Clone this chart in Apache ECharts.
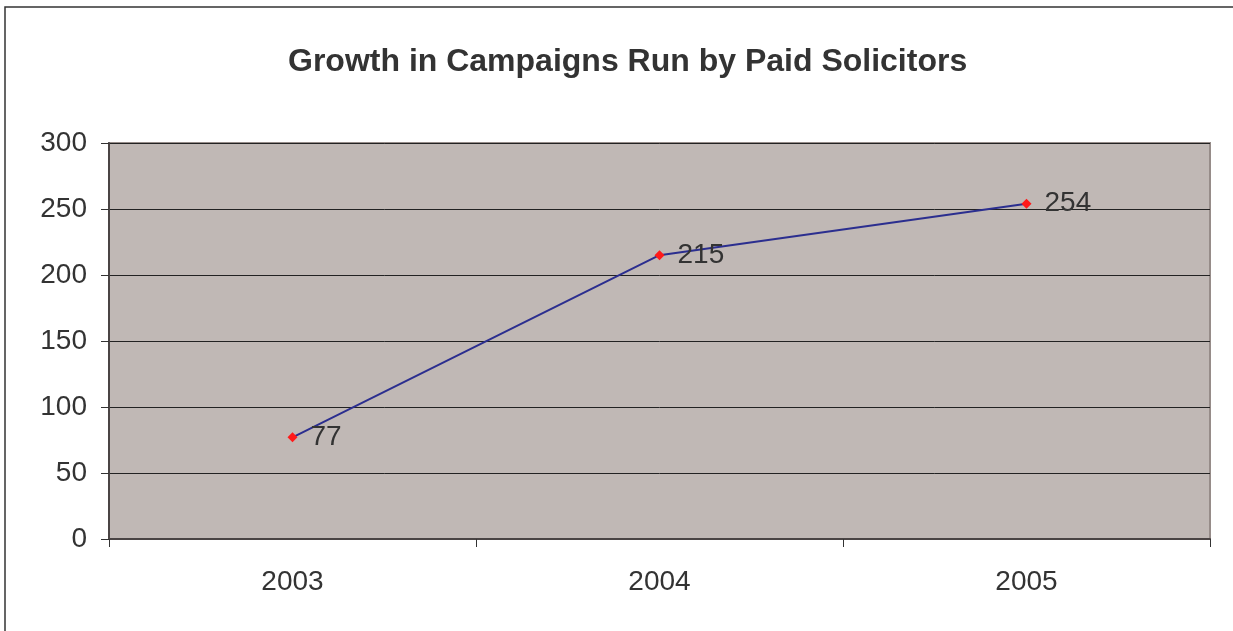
<!DOCTYPE html>
<html><head><meta charset="utf-8">
<script src="https://cdn.jsdelivr.net/npm/echarts@6/dist/echarts.min.js"></script>
<style>html,body{margin:0;padding:0;background:#fff}#c{width:1233px;height:631px}</style>
</head><body><div id="c"></div>
<script>
const title = 'Growth in Campaigns Run by Paid Solicitors';
const categories = ['2003', '2004', '2005'];
const values = [77, 215, 254];
const yTicks = { min: 0, max: 300, interval: 50 };

const chart = echarts.init(document.getElementById('c'), null, {renderer: 'canvas'});
chart.setOption({
  backgroundColor: '#fff',
  animation: false,
  title: {
    text: title, left: 283, top: 41,
    textStyle: {fontFamily: 'Liberation Sans, Arial, sans-serif', fontSize: 32, fontWeight: 'bold', color: '#333'}
  },
  graphic: [
    {type: 'polyline', shape: {points: [[5, 631], [5, 7], [1233, 7]]}, style: {stroke: '#333', lineWidth: 1.5, fill: null}}
  ],
  grid: {left: 109, right: 23, top: 143, bottom: 92, show: true, backgroundColor: '#C0B8B5', borderColor: '#968c89', borderWidth: 2},
  xAxis: {
    type: 'category', data: categories, boundaryGap: true,
    axisLine: {lineStyle: {color: '#4a4444', width: 2}},
    axisTick: {show: true, length: 8, alignWithLabel: false, lineStyle: {color: '#333'}},
    axisLabel: {fontFamily: 'Liberation Sans, Arial, sans-serif', fontSize: 28, color: '#333', margin: 29},
    splitLine: {show: false}
  },
  yAxis: {
    type: 'value', min: yTicks.min, max: yTicks.max, interval: yTicks.interval,
    axisLine: {show: true, lineStyle: {color: '#4a4444', width: 2}},
    axisTick: {show: true, length: 8, lineStyle: {color: '#333'}},
    axisLabel: {fontFamily: 'Liberation Sans, Arial, sans-serif', fontSize: 28, color: '#333', margin: 22},
    splitLine: {show: true, lineStyle: {color: '#222', width: 1}}
  },
  series: [{
    type: 'line', data: values,
    symbol: 'diamond', symbolSize: 10,
    itemStyle: {color: '#FF1A1A'},
    lineStyle: {color: '#2B2E8F', width: 2},
    label: {show: true, position: 'right', distance: 13, fontFamily: 'Liberation Sans, Arial, sans-serif', fontSize: 28, color: '#333'}
  }]
});
</script></body></html>
